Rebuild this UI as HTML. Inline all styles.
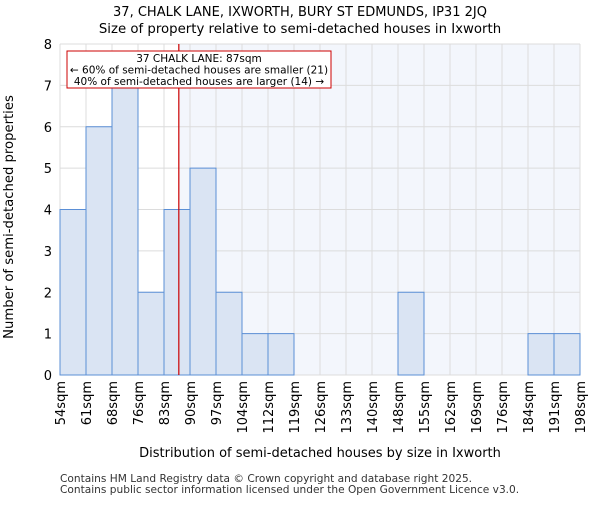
<!DOCTYPE html>
<html><head><meta charset="utf-8"><style>
body{margin:0;background:#fff;font-family:"Liberation Sans","DejaVu Sans",sans-serif;}
svg text{font-family:"DejaVu Sans","Liberation Sans",sans-serif;}
</style></head><body>
<svg id="chart" width="600" height="500" xmlns="http://www.w3.org/2000/svg">
<text x="300" y="16" text-anchor="middle" font-size="13">37, CHALK LANE, IXWORTH, BURY ST EDMUNDS, IP31 2JQ</text>
<text x="300" y="33" text-anchor="middle" font-size="13.3">Size of property relative to semi-detached houses in Ixworth</text>
<g id="plot"></g>
<text x="320" y="457" text-anchor="middle" font-size="13">Distribution of semi-detached houses by size in Ixworth</text>
<text transform="translate(13,217) rotate(-90)" text-anchor="middle" font-size="13.2">Number of semi-detached properties</text>
<text x="60" y="482" font-size="10.6" fill="#333">Contains HM Land Registry data © Crown copyright and database right 2025.</text>
<text x="60" y="493" font-size="10.6" fill="#333">Contains public sector information licensed under the Open Government Licence v3.0.</text>
</svg>
<script>
const binLabels=["54sqm","61sqm","68sqm","76sqm","83sqm","90sqm","97sqm","104sqm","112sqm","119sqm","126sqm","133sqm","140sqm","148sqm","155sqm","162sqm","169sqm","176sqm","184sqm","191sqm","198sqm"];
const counts=[4,6,7,2,4,5,2,1,1,0,0,0,0,2,0,0,0,0,1,1];
const yTicks=[0,1,2,3,4,5,6,7,8];
const propertyBinPos=4.57;
const NS="http://www.w3.org/2000/svg";
const L=60,R=580,T=44,B=375,yMax=8;
const n=counts.length,bw=(R-L)/n;
const xs=i=>L+i*bw;
const ys=v=>B-(B-T)*v/yMax;
const g=document.getElementById('plot');
function mk(t,a){const e=document.createElementNS(NS,t);for(const k in a)e.setAttribute(k,a[k]);g.appendChild(e);return e;}
const px=xs(propertyBinPos);
let e=mk('rect',{x:px,y:T,width:R-px,height:B-T,fill:'#f3f6fc'});


yTicks.forEach(v=>{
 let l=mk('line',{x1:L,x2:R,y1:ys(v),y2:ys(v),stroke:'#dcdcdc','stroke-width':1});
 
 
 let t=mk('text',{x:L-8,y:ys(v)+5,'text-anchor':'end','font-size':13});
 t.textContent=v;
 
 
});
binLabels.forEach((s,i)=>{
 let l=mk('line',{x1:xs(i),x2:xs(i),y1:T,y2:B,stroke:'#dcdcdc','stroke-width':1});
 
 
 let t=mk('text',{transform:`translate(${xs(i)+5},${B+6}) rotate(-90)`,'text-anchor':'end','font-size':13});
 t.textContent=s;
 
 
});
counts.forEach((c,i)=>{
 if(c<=0)return;
 let r=mk('rect',{x:xs(i),y:ys(c),width:bw,height:B-ys(c),fill:'#dae4f3',stroke:'#5b8fd6','stroke-width':1});
 
 
});
let rl=mk('line',{x1:px,x2:px,y1:T,y2:B,stroke:'#cc0000','stroke-width':1.2});


let box=mk('rect',{x:67,y:51,width:264,height:37,fill:'#fff',stroke:'#cc0000','stroke-width':1});


["37 CHALK LANE: 87sqm","← 60% of semi-detached houses are smaller (21)","40% of semi-detached houses are larger (14) →"].forEach((s,i)=>{
 let t=mk('text',{x:199,y:62+i*11.5,'text-anchor':'middle','font-size':10.5});
 t.textContent=s;
 
 
});
</script>
</body></html>
